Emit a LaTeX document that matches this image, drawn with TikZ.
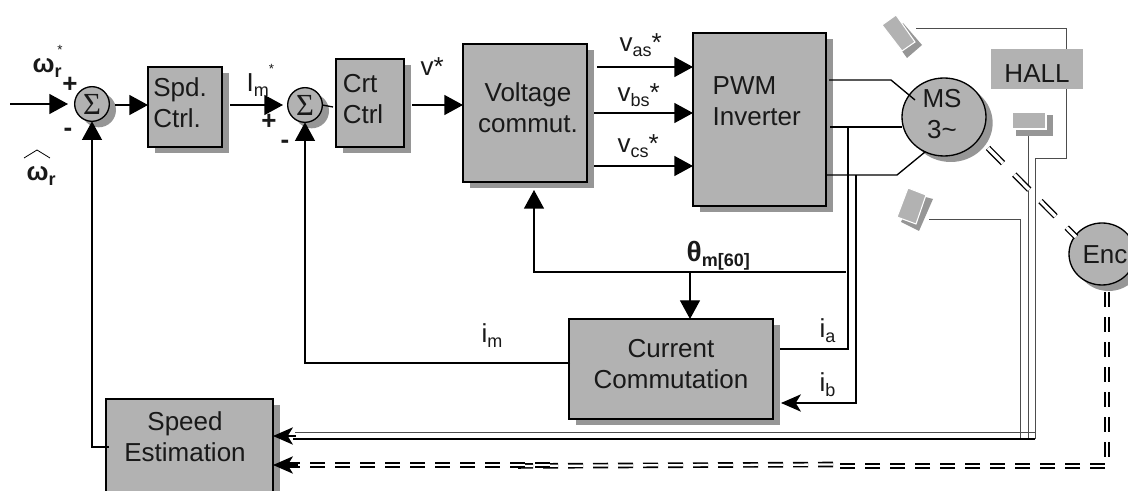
\documentclass[tikz,border=0pt]{standalone}
\usepackage{fontspec}
\setmainfont{Liberation Sans}
\newfontfamily\sigmafont{Liberation Serif}
\usetikzlibrary{arrows.meta,shapes.geometric,shadows}
\definecolor{boxgray}{HTML}{B2B2B2}
\definecolor{shadegray}{HTML}{969696}
\definecolor{wiregray}{HTML}{4D4D4D}
\newcommand{\lowtxt}[1]{\raisebox{-3.5pt}{\fontsize{13.5}{13.5}\selectfont #1}}
\newcommand{\smallstar}{\raisebox{14pt}{\fontsize{10}{10}\selectfont *}}
\newcommand{\omegatxt}{{\bfseries ω}}
\begin{document}
\begin{tikzpicture}
[x=0.75pt,y=-0.75pt,>={Triangle[length=14pt,width=15pt]},line width=1pt,
every node/.style={text=black!90,font=\fontsize{19.5}{23}\selectfont},
shaded/.style={drop shadow={shadow xshift=5pt,shadow yshift=-4.5pt,fill=shadegray,opacity=1}},
block/.style={draw,fill=boxgray,inner sep=0pt,outer sep=0pt,shaded},
sumnode/.style={draw,circle,fill=boxgray,inner sep=0pt,outer sep=0pt,minimum size=26pt,shaded,font=\sigmafont\fontsize{23}{23}\selectfont},
round/.style={draw,ellipse,fill=boxgray,inner sep=0pt,outer sep=0pt,shaded},
txt/.style={inner sep=0pt,align=center},
lbl/.style={inner sep=0pt,anchor=base west},
sign/.style={inner sep=0pt,font=\bfseries\fontsize{19.5}{19.5}\selectfont},
sarrow/.style={-{Stealth[length=15pt,width=13pt,inset=4pt]}},
wire/.style={line width=0.7pt,draw=wiregray},
facet/.style={fill=boxgray,draw=white,line width=0.8pt},
shaftlink/.style={double,line width=1pt,double distance=2.5pt,dash pattern=on 16pt off 12pt},
dashlink/.style={double,line width=1.25pt,double distance=1.7pt,dash pattern=on 11.25pt off 7.5pt},
]
\useasboundingbox (0,0) rectangle (1128,491);
\clip (0,0) rectangle (1128,491);

%Blocks
\node (sumA) at (92,104) [sumnode] {Σ};
\node (spd) at (185,107) [block,minimum width=55.5pt,minimum height=60pt] {};
\node (sumB) at (305,105) [sumnode] {Σ};
\node (crt) at (370,103) [block,minimum width=51pt,minimum height=66pt] {};
\node (volt) at (525,113) [block,minimum width=93pt,minimum height=103.5pt] {};
\node (pwm) at (759.5,119.5) [block,minimum width=99.75pt,minimum height=129.75pt] {};
\node (curr) at (671,369) [block,minimum width=153pt,minimum height=75pt] {};
\node (speed) at (189.5,448) [block,minimum width=125.25pt,minimum height=73.5pt] {};
\node (ms) at (944,117) [round,minimum width=63pt,minimum height=58.5pt] {};
\node (enc) at (1102,254) [round,minimum width=49.5pt,minimum height=46.5pt] {};

%Hall sensors
\fill[shadegray] (889,33) -- (903,23) -- (922,45) -- (907,58) -- cycle;
\draw[facet] (882,25) -- (896,15) -- (915,42) -- (902,51) -- cycle;
\fill[shadegray] (1016,115) rectangle (1053,136);
\draw[facet] (1012,112) rectangle (1046,129);
\fill[shadegray] (914,194) -- (933,199) -- (919,231) -- (901,222) -- cycle;
\draw[facet] (908,188) -- (926,195) -- (916,224) -- (897,217) -- cycle;

%Sensor wires
\coordinate (hallA) at (916,28);
\coordinate (hallB) at (1028,136);
\coordinate (hallC) at (929,219);
\draw[wire] (hallA) -- (1066,28) -- (1066,158) -- (1035,158) -- (1035,439);
\draw[wire] (hallB) -- (1028,439);
\draw[wire] (hallC) -- (1020,219) -- (1020,439);
\node (hall) at (1037,69) [fill=boxgray,inner sep=0pt,minimum width=69pt,minimum height=30pt] {};

%Forward path
\coordinate (inA) at (10,104);
\coordinate (sumAout) at (115,105);
\coordinate (spdOut) at (230,105);
\coordinate (crtIn) at (333,107);
\coordinate (crtOut) at (412,105);
\coordinate (vasOut) at (597,67);
\coordinate (vbsOut) at (594,113);
\coordinate (vcsOut) at (594,166);
\draw[->,shorten >=5pt] (inA) -- (sumA.west);
\draw[->] (sumAout) -- (spd.west |- sumAout);
\draw[->,shorten >=3.5pt] (spdOut) -- (sumB.west);
\draw (sumB.east) -- (crtIn);
\draw[->] (crtOut) -- (volt.west |- crtOut);
\draw[->] (vasOut) -- (pwm.west |- vasOut);
\draw[->] (vbsOut) -- (pwm.west |- vbsOut);
\draw[->] (vcsOut) -- (pwm.west |- vcsOut);

%Motor leads
\coordinate (pwmA) at (829,80);
\coordinate (pwmB) at (830,127);
\coordinate (pwmC) at (827,175);
\draw (pwmA) -- (891,80) -- (915,100);
\draw (pwmB) -- (ms.west |- pwmB);
\draw (pwmC) -- (897,175) -- (925,152);

%Shaft from motor to encoder
\coordinate (shaftA) at (988,148);
\coordinate (shaftB) at (1076,237);
\draw[shaftlink] (shaftA) -- (shaftB);

%Feedback paths
\coordinate (thetaEnd) at (846,272);
\coordinate (thetaTap) at (690,272);
\coordinate (voltIn) at (534,190);
\coordinate (imOut) at (570,363);
\coordinate (speedOut) at (109,447);
\coordinate (iaOut) at (780,349);
\coordinate (iaTop) at (848,127);
\coordinate (ibTop) at (856,175);
\coordinate (ibIn) at (781,403);
\draw[->] (thetaEnd) -| (voltIn);
\draw[->] (thetaTap) -- (thetaTap |- curr.north);
\draw[->] (imOut) -| (sumB.south);
\draw[->] (speedOut) -| (sumA.south);
\draw (iaOut) -| (iaTop);
\draw[sarrow] (ibTop) |- (ibIn);

%Lines into speed estimation
\coordinate (busTop) at (1035,432);
\coordinate (busLow) at (1035,439);
\draw[wire] (busTop) -- (295,432);
\draw[line width=0.8pt] (busLow) -- (293,439);
\coordinate (busIn) at (296,436);
\draw[sarrow] (busIn) -- (speed.east |- busIn);

%Encoder signal
\coordinate (encDown) at (1107,292);
\coordinate (encCorner) at (1107,457);
\coordinate (dashA) at (1105,466);
\coordinate (dashB) at (840,466);
\coordinate (dashC) at (833,464.5);
\coordinate (dashD) at (510,466);
\coordinate (dashE) at (285,465);
\coordinate (dashF) at (555,465);
\draw[dashlink] (encDown) -- (encCorner);
\draw[dashlink] (dashA) -- (dashB);
\draw[dashlink] (dashC) -- (dashD);
\draw[dashlink] (dashE) -- (dashF);
\coordinate (dashIn) at (298,465);
\draw[sarrow] (dashIn) -- (speed.east |- dashIn);

%Block texts
\node (spdT) at (180,103) [txt,align=left] {Spd.\\Ctrl.};
\node (crtT) at (363,99) [txt,align=left] {Crt\\Ctrl};
\node (voltT) at (528,108) [txt] {Voltage\\commut.};
\node (pwmT) at (712,101) [txt,align=left,anchor=west] {PWM\\Inverter};
\node (currT) at (671,364) [txt] {Current\\Commutation};
\node (speedT) at (185,437) [txt] {Speed\\Estimation};
\node (msT) at (942,114) [txt] {MS\\3\textasciitilde};
\node (hallT) at (1037,74) [txt] {HALL};
\node (encT) at (1105,255) [txt] {Enc};

%Labeling signals
\node (wref) at (32,73) [lbl] {\omegatxt\lowtxt{\bfseries r}};
\node (wrefS) at (60,50) [sign,font=\fontsize{10}{10}\selectfont] {*};
\node (wfb) at (26,181) [lbl] {\omegatxt\lowtxt{\bfseries r}};
\coordinate (hatA) at (24,158);
\coordinate (hatB) at (37,150);
\coordinate (hatC) at (50,158);
\draw[line width=0.6pt] (hatA) -- (hatB) -- (hatC);
\node (plusA) at (70,85) [sign] {+};
\node (minusA) at (68,132) [sign] {-};
\node (imref) at (246,92) [lbl] {I\lowtxt{m}\smallstar};
\node (plusB) at (269,122) [sign] {+};
\node (minusB) at (285,144) [sign] {-};
\node (vref) at (420,76) [lbl] {v*};
\node (vas) at (619,52) [lbl] {v\lowtxt{as}*};
\node (vbs) at (617,102) [lbl] {v\lowtxt{bs}*};
\node (vcs) at (617,153) [lbl] {v\lowtxt{cs}*};
\node (theta) at (686,262) [lbl] {{\bfseries\fontsize{21}{21}\selectfont θ}\lowtxt{\bfseries m[60]}};
\node (im) at (481,343) [lbl] {i\lowtxt{m}};
\node (ia) at (819,338) [lbl] {i\lowtxt{a}};
\node (ib) at (819,392) [lbl] {i\lowtxt{b}};

\end{tikzpicture}
\end{document}
